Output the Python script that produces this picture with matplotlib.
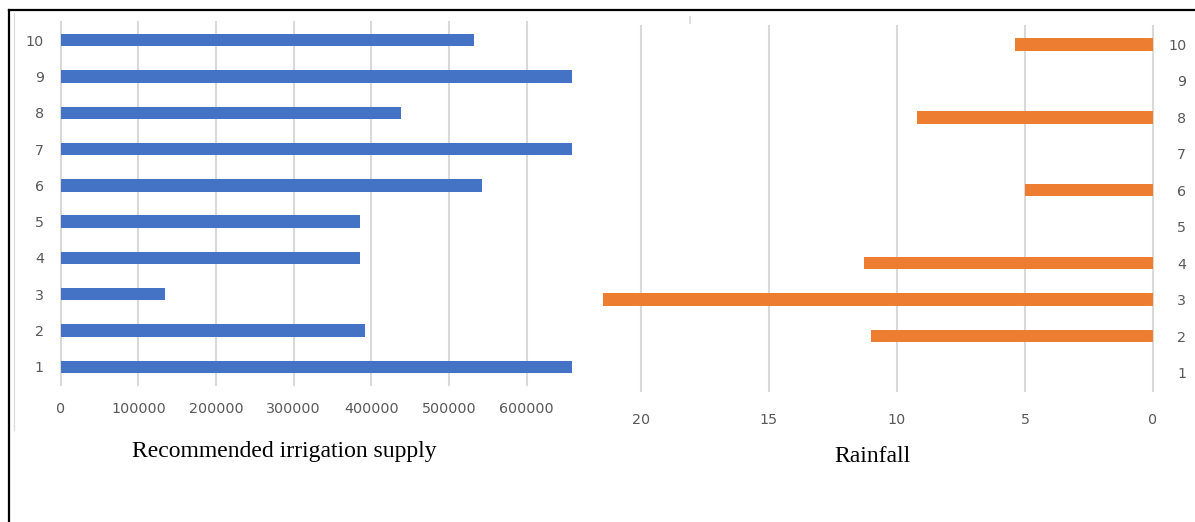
import numpy as np
import matplotlib.pyplot as plt
from matplotlib.lines import Line2D

# categories (shared by both panels)
categories = [1, 2, 3, 4, 5, 6, 7, 8, 9, 10]

# recommended irrigation supply per category
irrigation = [658700, 392000, 134000, 385000, 385000, 542000, 658700, 438000, 658700, 532000]

# rainfall per category
rainfall = [0, 11.0, 21.5, 11.3, 0, 5.0, 0, 9.2, 0, 5.4]

irr_ticks = [0, 100000, 200000, 300000, 400000, 500000, 600000]
rain_ticks = [20, 15, 10, 5, 0]

BLUE = '#4472C4'
ORANGE = '#ED7D31'
GRID = '#D9D9D9'
LABEL = '#595959'

W, H = 1195, 522
fig = plt.figure(figsize=(W / 100, H / 100), dpi=100)

#--------------------------------------------------------------------------------------------------------------------------
# left panel: irrigation supply
#--------------------------------------------------------------------------------------------------------------------------
ax1 = fig.add_axes([60.7 / W, 1 - 385 / H, 514.2 / W, 363 / H])
ax1.barh(categories, irrigation, height=0.34, color=BLUE, zorder=3)
ax1.set_xlim(0, 662000)
ax1.set_ylim(0.5, 10.5)
ax1.set_xticks(irr_ticks)
ax1.set_xticklabels([str(t) for t in irr_ticks])
ax1.set_yticks(categories)
ax1.tick_params(axis='both', length=0, labelsize=10.3, labelcolor=LABEL)
ax1.tick_params(axis='x', pad=12)
ax1.tick_params(axis='y', pad=12)
ax1.grid(axis='x', color=GRID, lw=1.5)
ax1.set_axisbelow(True)
for gl in ax1.get_xgridlines():
    gl.set_clip_on(False)
for s in ax1.spines.values():
    s.set_visible(False)

#--------------------------------------------------------------------------------------------------------------------------
# right panel: rainfall (mirrored)
#--------------------------------------------------------------------------------------------------------------------------
ax2 = fig.add_axes([600 / W, 1 - 390.7 / H, 553 / W, 364.4 / H])
ax2.barh(categories, rainfall, height=0.34, color=ORANGE, zorder=3)
ax2.set_xlim(21.6, 0)
ax2.set_ylim(0.5, 10.5)
ax2.set_xticks(rain_ticks)
ax2.set_yticks(categories)
ax2.yaxis.tick_right()
ax2.tick_params(axis='both', length=0, labelsize=10.3, labelcolor=LABEL)
ax2.tick_params(axis='x', pad=16)
ax2.tick_params(axis='y', pad=24)
for lbl in ax2.get_yticklabels():
    lbl.set_horizontalalignment('right')
ax2.grid(axis='x', color=GRID, lw=1.5)
ax2.set_axisbelow(True)
for gl in ax2.get_xgridlines():
    gl.set_clip_on(False)
for s in ax2.spines.values():
    s.set_visible(False)

# titles under each panel
fig.text(284 / W, 1 - 451 / H, 'Recommended irrigation supply', family='Liberation Serif',
         fontsize=17, ha='center', va='center', color='black')
fig.text(872 / W, 1 - 457 / H, 'Rainfall', family='Liberation Serif',
         fontsize=17, ha='center', va='center', color='black')

# frame lines around the pasted charts
fig.add_artist(Line2D([9 / W, 1], [1 - 10 / H, 1 - 10 / H], color='black', lw=1.6))
fig.add_artist(Line2D([9 / W, 9 / W], [0, 1 - 10 / H], color='black', lw=1.6))
fig.add_artist(Line2D([14 / W, 14 / W], [1 - 430 / H, 1 - 13 / H], color=GRID, lw=0.8))
fig.add_artist(Line2D([690 / W, 690 / W], [1 - 23 / H, 1 - 17 / H], color=GRID, lw=1.2))

fig.savefig('out.png', dpi=100)
